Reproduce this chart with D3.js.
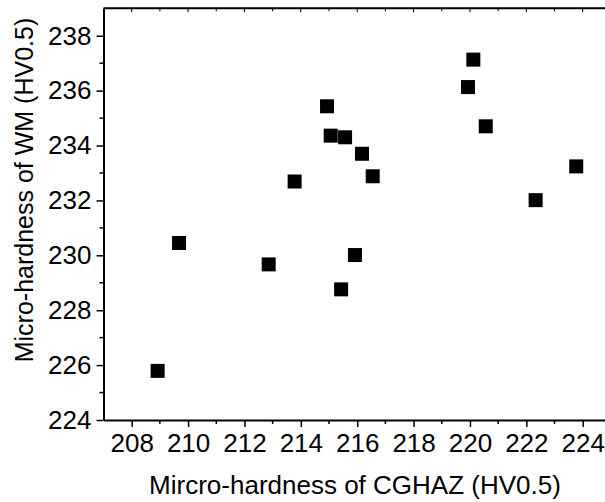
<!DOCTYPE html>
<html><head><meta charset="utf-8">
<script src="https://cdn.jsdelivr.net/npm/d3@7"></script>
<style>body{margin:0;background:#fff;overflow:hidden}svg{display:block;overflow:hidden}text{font-family:"Liberation Sans",Arial,sans-serif;fill:#000}</style>
</head><body>
<svg id="c" width="605" height="502"></svg>
<script>
const cghaz = [208.92,209.68,212.86,213.78,214.93,215.06,215.57,215.43,215.92,216.17,216.55,219.93,220.12,220.56,222.33,223.77];
const wm    = [225.79,230.45,229.67,232.69,235.43,234.36,234.30,228.76,230.01,233.70,232.88,236.13,237.13,234.70,232.01,233.24];
const xTicks = [208,210,212,214,216,218,220,222,224];
const yTicks = [224,226,228,230,232,234,236,238];
const xTitle = "Mircro-hardness of CGHAZ (HV0.5)";
const yTitle = "Micro-hardness of WM (HV0.5)";

const svg = d3.select("#c");
const x = d3.scaleLinear().domain([207,225]).range([103.5,610.9]);
const y = d3.scaleLinear().domain([224,239]).range([420,8.3]);

const g = svg.append("g");
g.append("line").attr("x1",x(207)).attr("x2",605).attr("y1",y(239)).attr("y2",y(239)).attr("stroke","#000").attr("stroke-width",2);
const xMinor = d3.range(208,225,1);
g.selectAll(".tt").data(xMinor).join("line").attr("x1",d=>x(d)).attr("x2",d=>x(d))
  .attr("y1",y(239)).attr("y2",d=>y(239)+(d%2===0?4:3)).attr("stroke","#000").attr("stroke-width",1);

const xa = svg.append("g").attr("transform",`translate(0,${y(224)})`)
  .call(d3.axisBottom(x).tickValues(xTicks).tickFormat(d3.format("d")).tickSize(7).tickPadding(7).tickSizeOuter(0));
xa.select(".domain").attr("stroke-width",2);
xa.selectAll(".tick line").attr("stroke-width",1.5);
xa.selectAll(".tick text").attr("font-size",26).attr("font-family","Liberation Sans, Arial, sans-serif").attr("fill","#000");
xa.selectAll(".mn").data(d3.range(209,225,2)).join("line").attr("class","mn")
  .attr("x1",d=>x(d)).attr("x2",d=>x(d)).attr("y1",0).attr("y2",4).attr("stroke","#000").attr("stroke-width",1.5);

const ya = svg.append("g").attr("transform",`translate(${x(207)},0)`)
  .call(d3.axisLeft(y).tickValues(yTicks).tickFormat(d3.format("d")).tickSize(7).tickPadding(5).tickSizeOuter(0));
ya.select(".domain").attr("stroke-width",2);
ya.selectAll(".tick line").attr("stroke-width",1.5);
ya.selectAll(".tick text").attr("font-size",26).attr("font-family","Liberation Sans, Arial, sans-serif").attr("fill","#000");
ya.selectAll(".mn").data(d3.range(225,239,2)).join("line").attr("class","mn")
  .attr("x1",0).attr("x2",-4).attr("y1",d=>y(d)).attr("y2",d=>y(d)).attr("stroke","#000").attr("stroke-width",1.5);

const s = 14;
svg.append("g").selectAll("rect").data(cghaz.map((c,i)=>[c,wm[i]])).join("rect")
  .attr("x",d=>x(d[0])-s/2).attr("y",d=>y(d[1])-s/2).attr("width",s).attr("height",s).attr("fill","#000");

svg.append("text").attr("x",355).attr("y",494).attr("text-anchor","middle").attr("font-size",26).text(xTitle);
svg.append("text").attr("transform","translate(33,190) rotate(-90)").attr("text-anchor","middle").attr("font-size",25).text(yTitle);
// mask right edge
svg.append("rect").attr("x",600).attr("y",y(239)+2).attr("width",5).attr("height",y(224)-y(239)-4).attr("fill","#fff");
</script>
</body></html>
